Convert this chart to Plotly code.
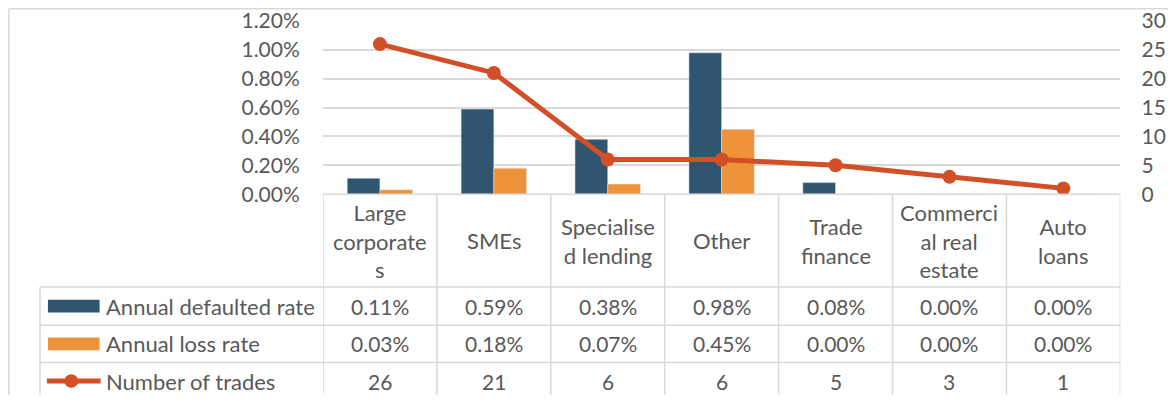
import plotly.graph_objects as go

categories = ["Large corporates", "SMEs", "Specialised lending", "Other",
              "Trade finance", "Commercial real estate", "Auto loans"]
header_labels = ["Large<br>corporate<br>s", "SMEs", "Specialise<br>d lending", "Other",
                 "Trade<br>finance", "Commerci<br>al real<br>estate", "Auto<br>loans"]
defaulted_rate = [0.0011, 0.0059, 0.0038, 0.0098, 0.0008, 0.0000, 0.0000]
loss_rate = [0.0003, 0.0018, 0.0007, 0.0045, 0.0000, 0.0000, 0.0000]
num_trades = [26, 21, 6, 6, 5, 3, 1]
series_names = ["Annual defaulted rate", "Annual loss rate", "Number of trades"]

# The html page has an 8px body margin; the usable drawing area is 1160x387 at (8, 8)
OFF = 8
W, H = 1160, 387
BLUE = "#2F5571"
ORANGE = "#EE9339"
RED = "#D34F27"
GRID = "#D9D9D9"
TXT = "#595959"
FONT = "Lato"
FS_NUM = 21
FS_TXT = 22

# light mapping of the reference layout into the usable area
SX, CX = 1126 / 1134, 40 - 40 * 1126 / 1134
SY = 360 / 368
CY = 21 - 18 * SY

def px(x):
    return (CX + SX * x - OFF) / W

def py(y):
    return 1 - (CY + SY * y - OFF) / H

x_left, x_right = 325, 1128
y_top, y_base = 18, 195
row_lines = [290, 329, 367]
row_centers = [309.5, 348, 386]
legend_left = 40

fig = go.Figure()
fig.add_trace(go.Bar(x=categories, y=defaulted_rate, name=series_names[0],
                     marker_color=BLUE, showlegend=False))
fig.add_trace(go.Bar(x=categories, y=loss_rate, name=series_names[1],
                     marker_color=ORANGE, showlegend=False))
fig.add_trace(go.Scatter(x=categories, y=num_trades, name=series_names[2], yaxis="y2",
                         mode="lines+markers", line=dict(color=RED, width=5),
                         marker=dict(size=14, color=RED), showlegend=False))

shapes = []
annotations = []

# Outer chart border (top & left visible)
shapes.append(dict(type="line", xref="paper", yref="paper", x0=0.0007, x1=1.01,
                   y0=0.998, y1=0.998, line=dict(color=GRID, width=1.5)))
shapes.append(dict(type="line", xref="paper", yref="paper", x0=0.0007, x1=0.0007,
                   y0=0.998, y1=-0.05, line=dict(color=GRID, width=1.5)))

# Table vertical lines at column boundaries
for i in range(len(categories) + 1):
    shapes.append(dict(type="line", xref="x", yref="paper", x0=i - 0.5, x1=i - 0.5,
                       y0=py(y_base), y1=-0.05, line=dict(color=GRID, width=1.5)))
# legend column left border
shapes.append(dict(type="line", xref="paper", yref="paper", x0=px(legend_left), x1=px(legend_left),
                   y0=py(row_lines[0]), y1=-0.05, line=dict(color=GRID, width=1.5)))
# horizontal row lines
for yl in row_lines:
    shapes.append(dict(type="line", xref="paper", yref="paper", x0=px(legend_left), x1=px(x_right),
                       y0=py(yl), y1=py(yl), line=dict(color=GRID, width=1.5)))
# baseline / header top
shapes.append(dict(type="line", xref="paper", yref="paper", x0=px(x_left), x1=px(x_right),
                   y0=py(y_base), y1=py(y_base), line=dict(color=GRID, width=1.5)))

# Header cells
for cat, lab in zip(categories, header_labels):
    annotations.append(dict(x=cat, xref="x", y=py((y_base + row_lines[0]) / 2), yref="paper",
                            text=lab, showarrow=False, xanchor="center", yanchor="middle",
                            font=dict(family=FONT, size=FS_TXT, color=TXT)))

# Data rows
rows = [[f"{v*100:.2f}%" for v in defaulted_rate],
        [f"{v*100:.2f}%" for v in loss_rate],
        [str(v) for v in num_trades]]
for r, vals in enumerate(rows):
    for cat, t in zip(categories, vals):
        annotations.append(dict(x=cat, xref="x", y=py(row_centers[r]), yref="paper",
                                text=t, showarrow=False, xanchor="center", yanchor="middle",
                                font=dict(family=FONT, size=FS_NUM, color=TXT)))
    annotations.append(dict(x=px(104), xref="paper", y=py(row_centers[r]), yref="paper",
                            text=series_names[r], showarrow=False, xanchor="left", yanchor="middle",
                            font=dict(family=FONT, size=FS_TXT, color=TXT)))

# Legend keys
shapes.append(dict(type="rect", xref="paper", yref="paper", x0=px(48), x1=px(100),
                   y0=py(303), y1=py(316), fillcolor=BLUE, line=dict(width=0)))
shapes.append(dict(type="rect", xref="paper", yref="paper", x0=px(48), x1=px(100),
                   y0=py(341.5), y1=py(354.5), fillcolor=ORANGE, line=dict(width=0)))
shapes.append(dict(type="line", xref="paper", yref="paper", x0=px(47), x1=px(101),
                   y0=py(386), y1=py(386), line=dict(color=RED, width=5)))
shapes.append(dict(type="circle", xref="paper", yref="paper", x0=px(64.5), x1=px(78.5),
                   y0=py(379), y1=py(393), fillcolor=RED, line=dict(width=0)))

fig.update_layout(
    width=W, height=H,
    margin=dict(l=0, r=0, t=0, b=0, pad=0, autoexpand=False),
    paper_bgcolor="white", plot_bgcolor="white",
    barmode="group", bargap=0.425, bargroupgap=0,
    font=dict(family=FONT, size=FS_NUM, color=TXT),
    xaxis=dict(domain=[px(x_left), px(x_right)], showticklabels=False, showgrid=False,
               zeroline=False, showline=False, ticks="", range=[-0.5, 6.5], automargin=False),
    yaxis=dict(domain=[py(y_base), py(y_top)], range=[0, 0.0120001], dtick=0.002, tick0=0,
               tickformat=".2%", showgrid=True, gridcolor=GRID, gridwidth=1.5,
               zeroline=False, showline=False, ticks="outside", ticklen=18, automargin=False,
               ticklabeloverflow="allow",
               tickcolor="rgba(0,0,0,0)", tickfont=dict(family=FONT, size=FS_NUM, color=TXT)),
    yaxis2=dict(overlaying="y", side="right", range=[0, 30.0001], dtick=5, tick0=0, showgrid=False,
                zeroline=False, showline=False, ticks="outside", ticklen=16, automargin=False,
                ticklabeloverflow="allow",
                tickcolor="rgba(0,0,0,0)", tickfont=dict(family=FONT, size=FS_NUM, color=TXT)),
    shapes=shapes, annotations=annotations,
)

fig.write_html("out.html")
